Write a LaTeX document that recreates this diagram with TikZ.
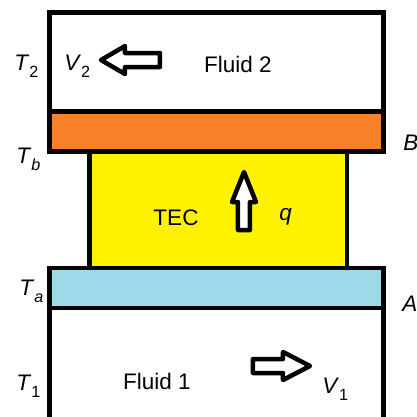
\documentclass[tikz,border=0pt]{standalone}
\usepackage{fontspec}
\setmainfont{Liberation Sans}
\definecolor{tecorange}{HTML}{F7822A}
\definecolor{tecyellow}{HTML}{FFF200}
\definecolor{tecblue}{HTML}{9DD9E9}
\newcommand{\lbl}[2]{\textit{#1}\raisebox{-5pt}{\fontsize{11.5}{12}\selectfont #2}}
\begin{document}
\begin{tikzpicture}[x=0.025cm, y=-0.025cm,
        wall/.style={line width=3.4pt, line join=miter},
        hollow/.style={line width=3.2pt, fill=white, line join=round},
        txt/.style={inner sep=0pt, font=\fontsize{16}{19}\selectfont}]
        \useasboundingbox (0,0) rectangle (417,417);

        % Coordinates
        \coordinate (F2) at (49.5, 12.5);
        \coordinate (Bt) at (49.5, 111.5);
        \coordinate (Bb) at (383.5, 151.5);
        \coordinate (Ct) at (89.5, 151.5);
        \coordinate (Cb) at (347.0, 268.0);
        \coordinate (At) at (49.5, 268.0);
        \coordinate (Ab) at (383.5, 308.0);

        % Drawing
        \draw[wall, fill=white] (F2) rectangle (383.5, 111.5);
        \draw[wall, fill=tecorange] (Bt) rectangle (Bb);
        \draw[wall, fill=tecyellow] (Ct) rectangle (Cb);
        \draw[wall, fill=tecblue] (At) rectangle (Ab);
        \draw[wall] (49.5, 425) -- (49.5, 308) -- (383.5, 308) -- (383.5, 425);

        % Arrows
        \draw[hollow] (101, 60) -- (125, 46) -- (125, 53) -- (160, 53)
            -- (160, 67) -- (125, 67) -- (125, 74) -- cycle;
        \draw[hollow] (244, 172) -- (256, 202) -- (250, 202) -- (250, 230)
            -- (238, 230) -- (238, 202) -- (232, 202) -- cycle;
        \draw[hollow] (310, 366) -- (283, 352) -- (283, 359) -- (253, 359)
            -- (253, 373) -- (283, 373) -- (283, 380) -- cycle;

        % Labels
        \node[txt, anchor=base] (fluidtwo) at (238, 72) {Fluid 2};
        \node[txt, anchor=base] (fluidone) at (157, 389) {Fluid 1};
        \node[txt, anchor=base] (tec) at (176, 225) {TEC};
        \node[txt, anchor=base west] (q) at (279, 220) {\textit{q}};
        \node[txt, anchor=base west] (Ttwo) at (14, 70) {\lbl{T}{2}};
        \node[txt, anchor=base west] (Vtwo) at (64, 70) {\lbl{V}{2}};
        \node[txt, anchor=base west] (Tb) at (16, 163) {\lbl{T}{\textit{b}}};
        \node[txt, anchor=base west] (Ta) at (19, 295) {\lbl{T}{\textit{a}}};
        \node[txt, anchor=base west] (Tone) at (16, 390) {\lbl{T}{1}};
        \node[txt, anchor=base west] (Vone) at (322, 393) {\lbl{V}{1}};
        \node[txt, anchor=base west] (B) at (403, 150) {\textit{B}};
        \node[txt, anchor=base west] (A) at (402, 311) {\textit{A}};
    \end{tikzpicture}
\end{document}
